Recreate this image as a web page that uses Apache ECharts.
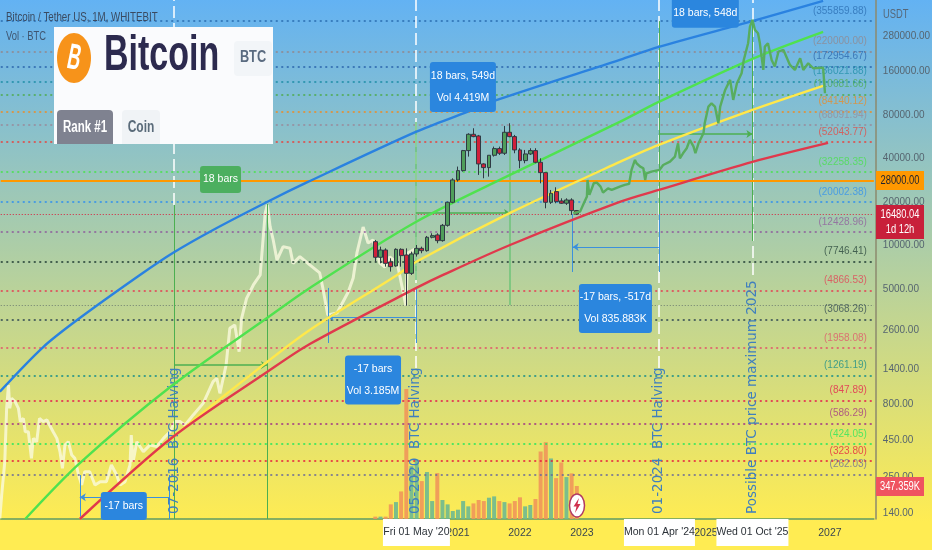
<!DOCTYPE html>
<html>
<head>
<meta charset="utf-8">
<style>html,body{margin:0;padding:0;background:#fff}#main{width:932px;height:550px}</style>
<script src="https://cdn.jsdelivr.net/npm/echarts@6/dist/echarts.min.js"></script>
</head>
<body>
<div id="main"></div>
<script>
// month slots on the bottom axis, Sep 2013 .. Sep 2027
var months = [];
for (var n = 0; n < 169; n++) {
    var mi = 8 + n;
    months.push((2013 + Math.floor(mi / 12)) + '-' + ('0' + (mi % 12 + 1)).slice(-2));
}
var yearLabelFrom = 2021;
var candleStart = 72; // Sep 2019

// open, close, low, high
var candles = [
    [10630,8290,7730,10920],[8290,9310,7530,9820],[9310,7530,7140,9560],[7690,7140,6600,8160],
    [7220,9410,7140,9560],[9410,8510,7140,9560],[8600,6420,3840,9560],[6420,8740,6260,9070],
    [8740,9560,8380,10080],[9560,9210,8840,9820],[9210,11400,9070,11640],[11400,11700,11210,12150],
    [11830,10800,10360,12150],[10800,13790,10630,14090],[13790,19900,13500,20110],[19900,28390,19590,29160],
    [28390,32940,27660,35120],[32940,45300,32420,45780],[45300,58750,41170,59690],[58750,56600,56030,64650],
    [57210,36630,30750,58140],[36630,34560,29160,37030],[34560,42050,29940,42050],[42050,46760,41170,48270],
    [46760,43420,42270,48270],[43420,60640,42270,67090],[60640,56600,56030,70000],[56600,45780,43420,58140],
    [45780,38630,34190,47030],[38630,42950,37030,45780],[42950,45300,42270,47030],[45300,37620,37030,47030],
    [37620,31900,26930,40080],[31900,19900,18080,31900],[19900,22960,19380,24210],[23580,20110,19590,25270],
    [20330,19590,19380,21200],[19590,20650,19070,21200],[20650,17430,16260,21200],[17430,16480.04,16260,17600]
];
// volume in thousands, same months as candles
var volumes = [25,25,25,154,178,290,1368,556,626,399,494,189,483,200,154,84,98,189,133,164,200,189,224,238,189,178,164,189,228,133,147,210,710,808,637,430,595,441,480,347.359];
var volumeUp = [0,1,0,0,1,0,0,1,1,0,1,1,0,1,1,1,1,1,1,0,0,0,1,1,0,1,0,0,0,1,1,0,0,0,1,0,0,1,0,0];

// [decimal year, price]
var blueCurve = [[2013.61,976],[2014.31,1987],[2014.90,3154],[2015.87,6257],[2016.40,8880],[2017.05,12810],[2017.92,20002],[2018.58,27500],[2020.32,60990],[2021.15,83830],[2021.63,101500],[2023.61,191900],[2024.24,236000],[2025.75,355860],[2026.89,490700]];
var greenCurve = [[2014.02,128.6],[2014.90,313],[2016.40,1085],[2017.92,3154],[2018.61,5090],[2020.32,14550],[2021.84,30750],[2023.61,71500],[2024.24,98300],[2025.75,195000],[2026.89,299700]];
var yellowCurve = [[2014.90,128.6],[2016.40,474],[2017.92,1565],[2018.61,2606],[2020.02,6257],[2020.32,7696],[2021.84,16790],[2023.61,37820],[2024.24,49590],[2025.75,86560],[2026.89,126900]];
var redCurve = [[2014.90,128.6],[2016.40,474],[2017.92,1334],[2018.61,2085],[2020.33,5090],[2020.76,6257],[2021.84,10080],[2023.61,20002],[2024.24,24210],[2025.75,37820],[2026.97,51200]];

var priceHistory = [[2013.61,130],[2013.64,188],[2013.69,320],[2013.72,749],[2013.75,1085],[2013.77,749],[2013.80,878],[2013.855,833],[2013.91,749],[2013.94,606],[2013.99,638],[2014.02,516],[2014.07,516],[2014.12,338],[2014.15,464],[2014.205,440],[2014.25,638],[2014.31,606],[2014.37,622],[2014.47,516],[2014.53,464],[2014.58,376],[2014.62,288],[2014.66,417],[2014.715,440],[2014.77,356],[2014.82,338],[2014.88,259],[2014.93,221],[2014.98,273],[2015.06,273],[2015.145,221],[2015.23,233],[2015.33,233],[2015.41,304],[2015.495,259],[2015.55,221],[2015.63,233],[2015.71,304],[2015.73,489],[2015.76,320],[2015.82,440],[2015.925,376],[2016.03,417],[2016.14,407],[2016.25,464],[2016.355,516],[2016.435,606],[2016.52,606],[2016.60,574],[2016.73,674],[2016.89,810],[2017.05,1145],[2017.11,1208],[2017.16,951],[2017.26,1493],[2017.32,2677],[2017.40,2823],[2017.47,1846],[2017.51,3139],[2017.59,4314],[2017.70,5337],[2017.81,6257],[2017.89,16700],[2017.925,19070],[2017.97,13500],[2018.02,10920],[2018.08,7940],[2018.18,9820],[2018.29,9560],[2018.34,7530],[2018.45,8380],[2018.61,7340],[2018.77,6460],[2018.82,5090],[2018.90,3310],[2019.05,3414],[2019.23,4773],[2019.31,5970],[2019.37,8880],[2019.47,13430],[2019.55,10410],[2019.63,10920],[2019.74,7570],[2019.82,7100],[2019.90,8330],[2020.02,7570],[2020.16,3840],[2020.19,8880],[2020.34,9620]];

var projection = [[2022.86,16700],[2022.97,17150],[2023.03,19590],[2023.08,21780],[2023.09,28390],[2023.12,22360],[2023.16,24860],[2023.19,26930],[2023.24,27210],[2023.30,25530],[2023.34,23220],[2023.42,24860],[2023.48,24210],[2023.61,25530],[2023.69,26220],[2023.76,26640],[2023.80,33300],[2023.855,39050],[2023.88,37030],[2023.94,35120],[2023.99,34190],[2024.02,28390],[2024.04,31570],[2024.12,32420],[2024.25,33300],[2024.31,36040],[2024.42,38010],[2024.50,41170],[2024.55,50900],[2024.58,40080],[2024.63,43420],[2024.69,47030],[2024.74,53680],[2024.80,48270],[2024.83,43420],[2024.88,50900],[2024.96,59690],[2024.98,70000],[2025.04,91270],[2025.09,96220],[2025.145,91270],[2025.20,70000],[2025.23,91270],[2025.31,119000],[2025.39,139600],[2025.44,101500],[2025.50,132400],[2025.575,155200],[2025.61,191800],[2025.68,250200],[2025.71,326200],[2025.75,362800],[2025.79,309400],[2025.84,293400],[2025.87,250200],[2025.925,163600],[2025.95,237200],[2026.00,250200],[2026.06,191800],[2026.11,172600],[2026.17,219200],[2026.25,225000],[2026.355,177200],[2026.435,163600],[2026.52,197000],[2026.57,163600],[2026.65,182000],[2026.73,168000],[2026.89,169800],[2026.92,112800]];

// dotted levels and their colours
var levels = [355859.88,220000,172954.67,136021.88,110681.66,84140.12,68091.94,52043.77,32258.35,20002.38,12428.96,7746.41,4866.53,3068.26,1958.08,1261.19,847.89,586.29,424.05,323.80,262.03];
var levelColors = ['#2a6cb0','#93868a','#2a64ac','#1c8da5','#4cab4c','#ee8a22','#98899a','#e8433c','#47e24a','#2e8ff0','#8f5a9c','#1f3b33','#e63b52','#2f4550','#e2506a','#128a8a','#e6174c','#a02f86','#1fe75c','#e6183c','#66679c'];
var priceLine = 28000;
var lastPrice = 16480.04;
var thinLevel = 3880;
var lastVolume = '347.359K';

var priceTicks = [280000,160000,80000,40000,20000,10000,5000,2600,1400,800,450,250,140];

// vertical halving lines: year, where the white dashes stop, text
var halvingYears = [2016.42,2020.32,2024.24,2025.75];
var halvingStops = [19070,1422,1422,6257];
var halvingTexts = ['07-2016  BTC Halving','05-2020  BTC Halving','01-2024  BTC Halving','Possible BTC price maximum 2025'];

// measuring tools: x1, price1, x2, price2
var greenRules = [[2016.42,19070,2016.42,128.6],[2017.92,19370,2017.92,128.6],[2024.24,355860,2024.24,6773],[2025.75,355860,2025.75,10750]];
var paleRules = [[2020.32,71500,2020.32,5780],[2021.84,68190,2021.84,3880]];
var greenArrows = [[2016.42,1492,2017.92,1492],[2020.32,16790,2021.84,16790],[2024.24,59070,2025.75,59070]];
var blueRules = [[2014.90,259,2014.90,128.6],[2016.35,259,2016.35,128.6],[2018.90,5090,2018.90,2118],[2020.32,5090,2020.32,2118],[2022.85,16480,2022.85,6560],[2024.24,16480,2024.24,6560]];
var blueArrows = [[2016.35,182,2014.90,182],[2020.32,3204,2018.90,3204],[2024.24,9770,2022.85,9770]];

// call-outs
var noteTexts = ['18 bars, 549d\nVol 4.419M','18 bars, 548d','18 bars','-17 bars','-17 bars\nVol 3.185M','-17 bars, -517d\nVol 835.883K'];
var notePoints = [[2021.08,124800],[2024.99,406000],[2017.17,28620],[2015.61,158],[2019.63,1176],[2023.54,3670]];
var noteColors = ['#2b86de','#2b86de','#4caf5f','#2b86de','#2b86de','#2b86de'];
var noteSizes = [[66,50],[67,30],[41,27],[46,28],[56,49],[73,49]];

var dateTexts = ["Fri 01 May '20","Mon 01 Apr '24","Wed 01 Oct '25"];
var dateYears = [2020.33,2024.25,2025.75];
var dateWidths = [67,71,72];

var priceMin = 128.6, priceMax = 498000, volumeMax = 5460;
var sans = '"Liberation Sans",sans-serif';

function segments(rows) {
    return rows.map(function (r) {
        return [{coord: [r[0], r[1]]}, {coord: [r[2], r[3]]}];
    });
}
function curve(data, color) {
    return {
        type: 'line', xAxisIndex: 1, yAxisIndex: 0, data: data, smooth: 0.3, showSymbol: false, silent: true,
        lineStyle: {color: color, width: 2.4}, z: 6
    };
}
function tag(y, h, color, lines, textColor) {
    var els = [{type: 'rect', z: 60, shape: {x: 876, y: y, width: 48, height: h}, style: {fill: color}}];
    lines.forEach(function (t, i) {
        els.push({type: 'text', z: 61, x: 900, y: y + 9.5 + i * 15, scaleX: 0.78, style: {text: t, fill: textColor, font: '12px ' + sans, textAlign: 'center', textVerticalAlign: 'middle'}});
    });
    return els;
}

var chart = echarts.init(document.getElementById('main'));

var levelLines = levels.map(function (v, i) {
    return {
        yAxis: v,
        lineStyle: {color: levelColors[i], type: [2, 3.5], width: 1.5},
        label: {show: true, position: 'insideEndTop', distance: [7, 5], formatter: '(' + v.toFixed(2) + ')', color: levelColors[i], opacity: 0.75, fontSize: 10, fontFamily: sans}
    };
});
levelLines.push({yAxis: lastPrice, lineStyle: {color: '#d81f3c', type: [1, 2], width: 1}, label: {show: false}});
levelLines.push({yAxis: thinLevel, lineStyle: {color: '#6f7f70', type: [1, 2], width: 1}, label: {show: false}});

var halvingDashes = halvingYears.map(function (x, i) {
    return [{coord: [x, halvingStops[i]]}, {coord: [x, priceMax]}];
});
var halvingLabels = halvingYears.map(function (x, i) {
    return [{
        coord: [x, priceMin],
        label: {show: true, position: 'insideStart', distance: 0, formatter: halvingTexts[i], color: '#3f7fbe', fontSize: 13.5, fontFamily: '"DejaVu Sans",sans-serif', padding: [0, 0, 0, 5]}
    }, {coord: [x, priceMax]}];
});

var graphics = [
    {type: 'rect', z: 50, shape: {x: 54, y: 27, width: 219, height: 117}, style: {fill: '#fafbfd'}},
    {type: 'ellipse', z: 51, shape: {cx: 74, cy: 58, rx: 17, ry: 25}, style: {fill: '#f7931a'}},
    {type: 'text', z: 52, x: 74, y: 59, rotation: -0.2, scaleX: 0.5, style: {text: 'B', fill: '#fff', font: 'bold 36px ' + sans, textAlign: 'center', textVerticalAlign: 'middle'}},
    {type: 'text', z: 51, x: 104, y: 56, scaleX: 0.68, style: {text: 'Bitcoin', fill: '#2c2a4e', font: 'bold 50px ' + sans, textVerticalAlign: 'middle'}},
    {type: 'rect', z: 51, shape: {x: 234, y: 41, width: 38, height: 35, r: 4}, style: {fill: '#f2f5f8'}},
    {type: 'text', z: 52, x: 253, y: 57, scaleX: 0.75, style: {text: 'BTC', fill: '#5a6b80', font: 'bold 17px ' + sans, textAlign: 'center', textVerticalAlign: 'middle'}},
    {type: 'rect', z: 51, shape: {x: 57, y: 110, width: 56, height: 34, r: [4, 4, 0, 0]}, style: {fill: '#7f8290'}},
    {type: 'text', z: 52, x: 85, y: 128, scaleX: 0.72, style: {text: 'Rank #1', fill: '#fff', font: 'bold 16px ' + sans, textAlign: 'center', textVerticalAlign: 'middle'}},
    {type: 'rect', z: 51, shape: {x: 122, y: 110, width: 38, height: 34, r: [4, 4, 0, 0]}, style: {fill: '#f0f3f6'}},
    {type: 'text', z: 52, x: 141, y: 128, scaleX: 0.75, style: {text: 'Coin', fill: '#5a6b7a', font: 'bold 16px ' + sans, textAlign: 'center', textVerticalAlign: 'middle'}},
    {type: 'text', z: 52, x: 6, y: 18, scaleX: 0.78, style: {text: 'Bitcoin / Tether US, 1M, WHITEBIT', fill: '#3a4a60', font: '12.5px ' + sans, textVerticalAlign: 'middle'}},
    {type: 'text', z: 52, x: 6, y: 37, scaleX: 0.78, style: {text: 'Vol \u00b7 BTC', fill: '#3f5570', font: '12px ' + sans, textVerticalAlign: 'middle'}},
    {type: 'text', z: 52, x: 883, y: 15, scaleX: 0.78, style: {text: 'USDT', fill: '#56687a', font: '12px ' + sans, textVerticalAlign: 'middle'}},
    {type: 'ellipse', z: 55, shape: {cx: 577, cy: 505.5, rx: 7.5, ry: 11.5}, style: {fill: '#fff', stroke: '#b23a62', lineWidth: 1.5}},
    {type: 'polygon', z: 56, shape: {points: [[579, 498], [573.5, 506.5], [576.5, 506.5], [575, 513], [580.5, 504], [577.5, 504]]}, style: {fill: '#d0304e'}}
];
graphics = graphics
    .concat(tag(171, 19, '#ff9800', [priceLine.toFixed(2)], '#1d2230'))
    .concat(tag(205, 34, '#c8203a', [lastPrice.toFixed(2), '1d 12h'], '#fff'))
    .concat(tag(477, 19, '#ef5360', [lastVolume], '#fff'));

chart.setOption({
    animation: false,
    backgroundColor: {
        type: 'linear', x: 0, y: 0, x2: 0, y2: 1,
        colorStops: [{offset: 0, color: '#63b2f3'}, {offset: 0.95, color: '#ffec52'}, {offset: 1, color: '#ffec52'}]
    },
    grid: {left: 0.75, top: 0, width: 873.1, height: 519, outerBoundsMode: 'none'},
    xAxis: [{
        type: 'category', data: months, boundaryGap: true,
        axisLine: {show: true, onZero: false, lineStyle: {color: '#5f9a66', width: 1.5}},
        axisTick: {show: false}, splitLine: {show: false},
        axisLabel: {
            margin: 9, color: '#3a4650', fontSize: 10.5, fontFamily: sans,
            interval: function (i, v) { return v.slice(5) === '01' && +v.slice(0, 4) >= yearLabelFrom; },
            formatter: function (v) { return v.slice(0, 4); }
        }
    }, {
        type: 'value', show: false, min: 2013.625, max: 2027.7083, scale: true, splitLine: {show: false}
    }],
    yAxis: [{
        type: 'log', logBase: 10, position: 'right', offset: 2, min: priceMin, max: priceMax,
        axisLine: {show: true, lineStyle: {color: '#8c8a6e', width: 1.5}},
        axisTick: {show: false}, splitLine: {show: false}, minorTick: {show: false},
        axisLabel: {customValues: priceTicks, margin: 7, color: '#566570', fontSize: 10, fontFamily: sans, formatter: function (v) { return (+v).toFixed(2); }}
    }, {
        type: 'value', show: false, min: 0, max: volumeMax, splitLine: {show: false}
    }],
    graphic: {elements: graphics},
    series: [
        {
            type: 'line', xAxisIndex: 1, yAxisIndex: 0, data: [], silent: true, z: 1,
            markLine: {silent: true, symbol: 'none', animation: false, data: levelLines}
        },
        {
            type: 'bar', xAxisIndex: 0, yAxisIndex: 1, barWidth: 4, silent: true, z: 2,
            data: volumes.map(function (v, i) {
                return {value: [candleStart + i, v], itemStyle: {color: volumeUp[i] ? 'rgba(110,185,145,0.9)' : 'rgba(240,150,90,0.9)'}};
            })
        },
        {
            type: 'line', xAxisIndex: 1, yAxisIndex: 0, data: priceHistory, showSymbol: false, silent: true, z: 3,
            lineStyle: {color: 'rgba(250,250,222,0.8)', width: 3}
        },
        {
            type: 'line', xAxisIndex: 1, yAxisIndex: 0, data: [], silent: true, z: 4,
            markLine: {
                silent: true, symbol: 'none', animation: false, label: {show: false},
                lineStyle: {color: '#fff', type: [12, 5], width: 1.5},
                data: halvingDashes
            }
        },
        {
            type: 'line', xAxisIndex: 1, yAxisIndex: 0, data: [], silent: true, z: 21,
            markLine: {
                silent: true, symbol: 'none', animation: false,
                lineStyle: {color: 'rgba(0,0,0,0)', width: 1},
                data: halvingLabels
            }
        },
        {
            type: 'line', xAxisIndex: 1, yAxisIndex: 0, data: [], silent: true, z: 5,
            markLine: {
                silent: true, symbol: 'none', animation: false, label: {show: false},
                lineStyle: {color: '#4caf50', type: 'solid', width: 1},
                data: segments(greenRules)
            }
        },
        {
            type: 'line', xAxisIndex: 1, yAxisIndex: 0, data: [], silent: true, z: 5,
            markLine: {
                silent: true, symbol: 'none', animation: false, label: {show: false},
                lineStyle: {color: 'rgba(110,195,120,0.75)', type: 'solid', width: 2},
                data: segments(paleRules)
            }
        },
        {
            type: 'line', xAxisIndex: 1, yAxisIndex: 0, data: [], silent: true, z: 5,
            markLine: {
                silent: true, symbol: ['none', 'arrow'], symbolSize: 6, animation: false, label: {show: false},
                lineStyle: {color: '#4caf50', type: 'solid', width: 1.5},
                data: segments(greenArrows)
            }
        },
        {
            type: 'line', xAxisIndex: 1, yAxisIndex: 0, data: [], silent: true, z: 5,
            markLine: {
                silent: true, symbol: 'none', animation: false, label: {show: false},
                lineStyle: {color: '#3c90dc', type: 'solid', width: 1},
                data: segments(blueRules)
            }
        },
        {
            type: 'line', xAxisIndex: 1, yAxisIndex: 0, data: [], silent: true, z: 5,
            markLine: {
                silent: true, symbol: ['none', 'arrow'], symbolSize: 6, animation: false, label: {show: false},
                lineStyle: {color: '#3c90dc', type: 'solid', width: 1.2},
                data: segments(blueArrows)
            }
        },
        curve(blueCurve, '#2a82e0'),
        curve(greenCurve, '#4fe24f'),
        curve(yellowCurve, '#ffe84a'),
        curve(redCurve, '#e0394c'),
        {
            type: 'candlestick', xAxisIndex: 0, yAxisIndex: 0, barWidth: 4.4, silent: true, z: 7,
            encode: {x: 0, y: [1, 2, 3, 4]},
            data: candles.map(function (r, i) { return [candleStart + i, r[0], r[1], r[2], r[3]]; }),
            itemStyle: {color: '#4f9e5a', color0: '#d0203a', borderColor: '#2f3a44', borderColor0: '#2f3a44', borderWidth: 1}
        },
        {
            type: 'line', xAxisIndex: 1, yAxisIndex: 0, data: projection, showSymbol: false, silent: true, z: 8,
            lineStyle: {color: '#58ad5e', width: 2.4}
        },
        {
            type: 'line', xAxisIndex: 1, yAxisIndex: 0, data: [], silent: true, z: 20,
            markLine: {
                silent: true, symbol: 'none', animation: false, label: {show: false},
                lineStyle: {color: '#ff9800', type: 'solid', width: 1.8},
                data: [{yAxis: priceLine}]
            }
        },
        {
            type: 'scatter', xAxisIndex: 1, yAxisIndex: 0, symbolSize: 0, silent: true, z: 15,
            itemStyle: {opacity: 1},
            data: notePoints.map(function (p, i) {
                return {
                    value: p,
                    label: {
                        show: true, position: 'inside', formatter: noteTexts[i], color: '#fff', fontSize: 10.5, fontFamily: sans,
                        lineHeight: 22, align: 'center', verticalAlign: 'middle',
                        backgroundColor: noteColors[i], borderRadius: 3,
                        width: noteSizes[i][0], height: noteSizes[i][1]
                    }
                };
            })
        },
        {
            type: 'scatter', xAxisIndex: 1, yAxisIndex: 0, symbolSize: 0, silent: true, z: 30,
            itemStyle: {opacity: 1},
            data: dateTexts.map(function (t, i) {
                return {
                    value: [dateYears[i], priceMin],
                    label: {
                        show: true, position: 'bottom', distance: 0, formatter: t, color: '#2c3238', fontSize: 10.5, fontFamily: sans,
                        backgroundColor: '#fff', width: dateWidths[i], height: 27, lineHeight: 27, align: 'center', verticalAlign: 'top'
                    }
                };
            })
        }
    ]
});
</script>
</body>
</html>
